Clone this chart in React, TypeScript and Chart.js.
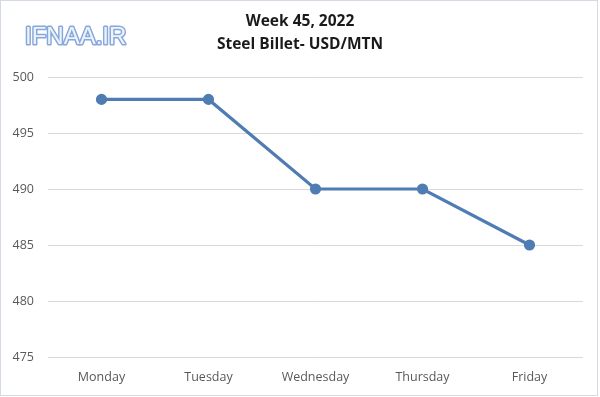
import React, { useEffect, useRef } from "react";
import { Chart, registerables } from "chart.js";

Chart.register(...registerables);

const categories = ["Monday", "Tuesday", "Wednesday", "Thursday", "Friday"];
const prices = [498, 498, 490, 490, 485];
const titleLines = ["Week 45, 2022", "Steel Billet- USD/MTN"];
const logoText = "IFNAA.IR";

const decorPlugin = {
  id: "decor",
  beforeDraw(chart: any) {
    const ctx = chart.ctx;
    ctx.save();
    ctx.fillStyle = "#ffffff";
    ctx.fillRect(0, 0, chart.width, chart.height);
    ctx.restore();
  },
  afterDraw(chart: any) {
    const ctx = chart.ctx;
    ctx.save();
    // border
    ctx.strokeStyle = "#d3dae3";
    ctx.lineWidth = 1;
    ctx.strokeRect(0.5, 0.5, chart.width - 3, chart.height - 2);
    // titles
    ctx.fillStyle = "#1a1a1a";
    ctx.font = "bold 15.5px 'Open Sans'";
    ctx.textAlign = "center";
    ctx.textBaseline = "middle";
    ctx.fillText(titleLines[0], 300, 22);
    ctx.fillText(titleLines[1], 300, 45);
    // logo
    ctx.font = "24px 'Liberation Sans'";
    ctx.textAlign = "left";
    ctx.textBaseline = "alphabetic";
    ctx.lineJoin = "round";
    ctx.strokeStyle = "#86a8da";
    ctx.lineWidth = 3;
    ctx.strokeText(logoText, 25, 44);
    ctx.fillStyle = "#eef3fb";
    ctx.fillText(logoText, 25, 44);
    ctx.restore();
  },
};

export default function App() {
  const ref = useRef<HTMLCanvasElement>(null);
  useEffect(() => {
    document.body.style.margin = "0";
    const chart = new Chart(ref.current!, {
      type: "line",
      data: {
        labels: categories,
        datasets: [
          {
            data: prices,
            borderColor: "#4f7db3",
            backgroundColor: "#4f7db3",
            borderWidth: 3.2,
            pointRadius: 4,
            pointBackgroundColor: "#4f7db3",
            pointBorderColor: "#4f7db3",
            tension: 0,
          },
        ],
      },
      options: {
        animation: false,
        responsive: false,
        devicePixelRatio: 1,
        layout: { padding: { left: 8, right: 17, top: 77, bottom: 0 } },
        plugins: { legend: { display: false }, tooltip: { enabled: false } },
        scales: {
          x: {
            offset: true,
            grid: { display: false, drawTicks: false },
            border: { display: false },
            ticks: { color: "#595959", font: { family: "'Open Sans'", size: 12.5 }, padding: 13 },
            afterFit: (s: any) => { s.height = 40; },
          },
          y: {
            min: 475,
            max: 500,
            ticks: { stepSize: 5, color: "#595959", font: { family: "'Open Sans'", size: 12.5 }, padding: 14 },
            grid: { color: "#d9d9d9", drawTicks: false },
            border: { display: false },
            afterFit: (s: any) => { s.width = 40; },
          },
        },
      },
      plugins: [decorPlugin],
    });
    return () => chart.destroy();
  }, []);
  return (
    <div style={{ position: "fixed", left: 0, top: 0, width: 600, height: 397 }}>
      <canvas ref={ref} width={600} height={397} style={{ width: 600, height: 397 }} />
    </div>
  );
}
